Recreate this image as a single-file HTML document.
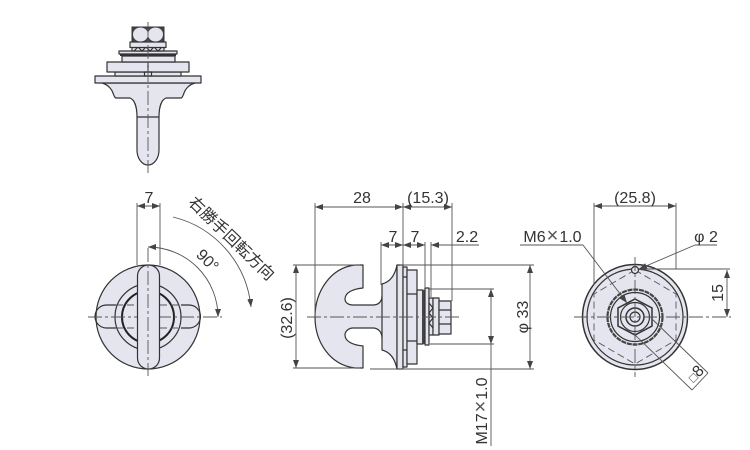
<!DOCTYPE html>
<html>
<head>
<meta charset="utf-8">
<style>
html,body{margin:0;padding:0;background:#fff;width:750px;height:450px;overflow:hidden}
svg{display:block;filter:blur(.25px)}
text{font-family:"Liberation Sans","Noto Sans CJK JP",sans-serif;font-size:16px;fill:#333;text-anchor:middle}
.o{fill:#e5e5ef;stroke:#333;stroke-width:1.2;stroke-linejoin:round}
.n{fill:none;stroke:#333;stroke-width:1.2}
.t{fill:none;stroke:#222;stroke-width:2}
.d{fill:none;stroke:#555;stroke-width:.9}
.c{fill:none;stroke:#555;stroke-width:.9;stroke-dasharray:14 3 3 3}
.h{fill:none;stroke:#555;stroke-width:.9;stroke-dasharray:7 4}
.a{fill:none;stroke:#555;stroke-width:.9;marker-start:url(#m);marker-end:url(#m)}
.e{fill:none;stroke:#555;stroke-width:.9;marker-end:url(#m)}
.x{font-size:20px;fill:#555}
.s{font-size:12px}
</style>
</head>
<body>
<svg width="750" height="450" viewBox="0 0 750 450" xmlns="http://www.w3.org/2000/svg">
<defs>
<marker id="m" viewBox="0 0 8 6" refX="8" refY="3" markerWidth="8" markerHeight="6" markerUnits="userSpaceOnUse" orient="auto-start-reverse"><path d="M0 0L8 3L0 6Z" fill="#444"/></marker>
</defs>

<!-- Top elevation -->
<path class="o" d="M102 83C109 85 112 90 113 93C114 96 115 98 116 98H130C135 100 137 108 137 117V150A11 15 0 0 0 159 150V117C159 108 161 100 166 98H181C182 98 183 96 184 93C185 90 188 85 195 83Z"/>
<rect class="o" x="95" y="76" width="106" height="7"/>
<rect class="o" x="115" y="72" width="66" height="4"/>
<rect class="o" x="107" y="62" width="82" height="10"/>
<rect class="o" x="122" y="56" width="53" height="6"/>
<rect x="120" y="53" width="56" height="3" fill="#333"/>
<rect class="o" x="119" y="51" width="58" height="3"/>
<rect class="o" x="132" y="47" width="32" height="4"/>
<path class="n" d="M134 51L138 47L142 51L146 47L150 51L154 47L158 51L162 47"/>
<rect class="o" x="130" y="42" width="36" height="5.500"/>
<rect x="132" y="27" width="32" height="15" fill="#444" stroke="#333" stroke-width="1"/>
<ellipse cx="140.500" cy="34.500" rx="7.500" ry="7" fill="#e5e5ef"/>
<ellipse cx="155.500" cy="34.500" rx="7.500" ry="7" fill="#e5e5ef"/>
<path class="n" d="M137 117H159"/>
<rect class="n" x="144.500" y="72" width="7" height="4"/>
<path class="n" d="M148 62V72"/>
<path class="c" d="M148 22V173"/>

<!-- Front view -->
<circle class="o" cx="148" cy="317" r="52"/>
<circle class="n" cx="148" cy="317" r="33"/>
<circle class="t" cx="148" cy="317" r="26"/>
<path class="n" d="M116 305H106.500A11.500 11.500 0 0 0 106.500 328H116M181 305H189A11.500 11.500 0 0 1 189 328H181"/>
<path class="h" d="M116 305H181M116 328H181"/>
<path class="c" d="M88 317H222"/>
<rect class="o" x="137.500" y="265" width="22" height="104" rx="11"/>
<path class="c" d="M148 248V376"/>
<path class="d" d="M137 203V265M160 203V265"/>
<path class="a" d="M137 206H160"/>
<path class="a" d="M148 247A70 70 0 0 1 218 317"/>
<path class="e" d="M173 217A103 103 0 0 1 251 307"/>
<text x="149" y="203">7</text>
<text x="208" y="266" transform="rotate(45 208 260)">90°</text>
<text x="232" y="244" transform="rotate(44 232 238)">右勝手回転方向</text>

<!-- Side view -->
<path class="o" d="M355 265H363V288C352 289 345 293 345 299C345 303 349 305 353 305H373C378 305 382 302 382 296V284C390 282 395 275 397 265V369C395 359 390 352 382 350V338C382 332 378 328 373 328H353C349 328 345 331 345 335C345 341 352 345 363 346V368H355C330 365 315 342 315 317C315 292 330 268 355 265Z"/>
<path class="n" d="M382 296V338"/>
<rect class="o" x="397" y="265" width="6" height="104"/>
<rect class="o" x="403" y="267" width="4" height="100"/>
<rect class="o" x="407" y="270" width="10" height="94"/>
<path class="n" d="M407 294H417M407 341H417M403 277H407M403 350H407"/>
<rect class="o" x="417" y="290" width="6" height="54"/>
<rect x="422" y="290" width="4" height="54" fill="#444"/>
<rect class="o" x="425" y="288" width="4" height="57"/>
<rect class="o" x="429" y="298" width="4" height="37"/>
<path class="n" d="M429 303L433 308L429 313L433 318L429 323L433 328"/>
<rect class="o" x="433" y="298" width="6" height="37"/>
<rect class="o" x="439" y="301" width="12" height="33"/>
<path class="n" d="M439 310H451M439 324H451"/>
<path class="c" d="M307 317H459"/>

<path class="d" d="M315 203V317M403 203V265M452 203V301M381 242V285M425 242V288M431 242V297M293 265H360M293 368H360M400 265H534M370 369H534M429 289H494M430 344H494M431 245H479M520 245H583M695 245H717"/>
<path class="a" d="M315 207H403"/>
<path class="a" d="M403 207H452"/>
<path class="a" d="M381 245H403"/>
<path class="a" d="M403 245H425"/>
<path class="a" d="M296 265V368"/>
<path class="a" d="M530 265V369"/>
<path class="a" d="M491 289V344"/>
<path class="d" d="M491 344V446"/>
<path class="e" d="M452 245H431"/>
<text x="362" y="203">28</text>
<text x="428" y="203">(15.3)</text>
<text x="393" y="242">7</text>
<text x="415" y="242">7</text>
<text x="467" y="242">2.2</text>
<text x="292" y="318" transform="rotate(-90 292 318)">(32.6)</text>
<text x="528" y="317" transform="rotate(-90 528 317)">φ 33</text>
<text x="487" y="411" transform="rotate(-90 487 411)">M17<tspan class="x" dx="1">×</tspan><tspan dx="1">1.0</tspan></text>

<!-- Rear view -->
<circle class="o" cx="635" cy="317" r="52.500" style="stroke-width:1.5"/>
<circle class="n" cx="635" cy="317" r="48"/>
<path class="h" d="M635 270L594 294V340L635 364L676 340V294Z"/>
<circle cx="635" cy="317" r="27.500" fill="none" stroke="#444" stroke-width="2.200" stroke-dasharray="5 .8"/>
<circle class="n" cx="635" cy="317" r="24.500"/>
<path class="n" style="stroke-width:1.500" d="M635 299L652 308V326L635 335L618 326V308Z"/>
<circle class="n" cx="635" cy="317" r="14.500"/>
<circle class="n" cx="635" cy="317" r="9" style="stroke-width:1.500"/>
<circle class="n" cx="635" cy="317" r="5"/>
<circle class="o" cx="635" cy="270" r="3.500"/>
<path class="c" d="M574 317H731"/>
<path class="c" d="M635 257V377"/>
<path class="d" d="M594 203V285M676 203V269M640 269H730M651 318L708 373M633 333L692 390"/>
<path class="a" d="M594 206H676"/>
<path class="a" d="M727 270V317"/>
<path class="e" d="M583 245L627 303"/>
<path class="e" d="M695 245L639 269"/>
<path class="d" d="M692 390L708 373"/>
<text x="635" y="203">(25.8)</text>
<text x="552.500" y="242">M6<tspan class="x" dx="1">×</tspan><tspan dx="1">1.0</tspan></text>
<text x="706" y="242">φ 2</text>
<text x="723" y="293" transform="rotate(-90 723 293)">15</text>
<text x="695" y="379" transform="rotate(-45 695 373)"><tspan class="s">□</tspan>8</text>
</svg>
</body>
</html>
